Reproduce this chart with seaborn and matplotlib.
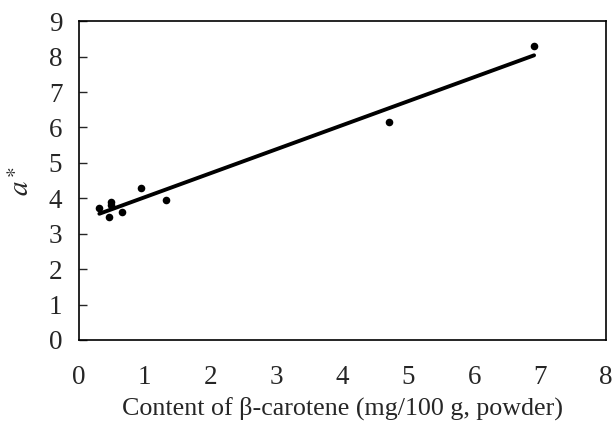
import numpy as np
import pandas as pd
import matplotlib
matplotlib.use('Agg')
import matplotlib.pyplot as plt
import seaborn as sns

# Data
beta_carotene = [0.31, 0.49, 0.49, 0.46, 0.65, 0.945, 1.32, 4.70, 6.91]
a_star = [3.72, 3.89, 3.80, 3.48, 3.61, 4.29, 3.95, 6.16, 8.31]
x_ticks = [0, 1, 2, 3, 4, 5, 6, 7, 8]
y_ticks = [0, 1, 2, 3, 4, 5, 6, 7, 8, 9]

df = pd.DataFrame({'x': beta_carotene, 'y': a_star})

sns.set_style('white')
plt.rcParams['font.family'] = ['Liberation Serif', 'DejaVu Serif']
plt.rcParams['mathtext.fontset'] = 'stix'

fig = plt.figure(figsize=(6.12, 4.32), dpi=100)
ax = fig.add_axes([0.129, 0.213, 0.861, 0.738])

sns.regplot(data=df, x='x', y='y', ci=None, truncate=True, ax=ax,
            scatter_kws={'s': 30, 'color': 'black', 'linewidths': 0, 'alpha': 1},
            line_kws={'color': 'black', 'linewidth': 2.8})

ax.set_xlim(0, 8)
ax.set_ylim(0, 9)
ax.set_xticks(x_ticks)
ax.set_yticks(y_ticks)
ax.tick_params(axis='x', length=0, pad=18, labelsize=19.5)
ax.tick_params(axis='y', direction='in', length=6, width=1, pad=12, labelsize=19.5, left=True)

for s in ax.spines.values():
    s.set_color('black')
    s.set_linewidth(1.2)

ax.set_xlabel('Content of β-carotene (mg/100 g, powder)', fontsize=18.7, labelpad=5)
ax.set_ylabel(r'$a\,^{\ast}$', fontsize=21, labelpad=10)

fig.savefig('out.png', dpi=100)
